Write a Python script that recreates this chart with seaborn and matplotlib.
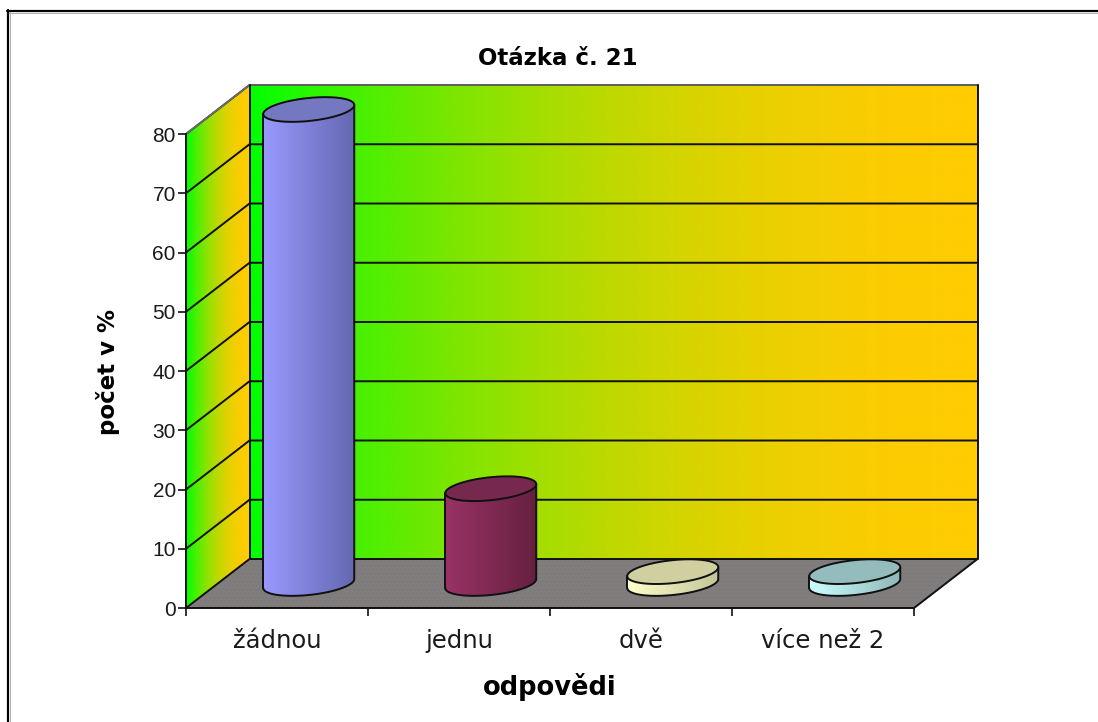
import numpy as np
import pandas as pd
import seaborn as sns
import matplotlib
matplotlib.use("Agg")
import matplotlib.pyplot as plt
from matplotlib.lines import Line2D
from matplotlib.patches import Polygon
from matplotlib.colors import to_rgb

categories = ["žádnou", "jednu", "dvě", "více než 2"]
values = [80, 16, 2, 2]
y_ticks = [0, 10, 20, 30, 40, 50, 60, 70, 80]
side_light = ["#9999ff", "#993366", "#ffffcc", "#ccffff"]
side_dark = ["#6468b0", "#66203f", "#c4c498", "#8fb8b8"]
top_colors = ["#7478c0", "#76284e", "#cfcfa0", "#94bcbc"]
title_text = "Otázka č. 21"
x_label = "odpovědi"
y_label = "počet v %"

W, H = 1098, 722
L, R, T, B = 186, 977.5, 85, 608
PX_X = 182.0        # pixels per category
PX_Y = 5.925        # pixels per percent
DX = 63.5 / PX_X    # depth of the 3D box in category units
DY = 49 / PX_Y      # depth of the 3D box in value units

sns.set_theme(style="white")
plt.rcParams["font.family"] = ["DejaVu Sans"]

fig = plt.figure(figsize=(W / 100, H / 100), dpi=100, facecolor="white")
ax = fig.add_axes([L / W, (H - B) / H, (R - L) / W, (B - T) / H])
ax.set_facecolor("none")

df = pd.DataFrame({"odpoved": categories, "pocet": values})
sns.barplot(data=df, x="odpoved", y="pocet", hue="odpoved", palette=side_light,
            width=0.5, saturation=1, legend=False, ax=ax)

x0, x1 = -0.5, len(categories) - 0.5
xlim = (x0, x1 + DX)
ylim = (0, max(y_ticks) + DY)
ext = [xlim[0], xlim[1], ylim[0], ylim[1]]
nw, nh = int(R - L), int(B - T)
yy, xx = np.mgrid[0:nh, 0:nw]
dots_wall = ((xx + 3 * (yy // 6 % 2)) % 6 == 0) & (yy % 6 == 0)
dots_floor = ((xx + 2 * (yy // 4 % 2)) % 4 == 0) & (yy % 4 == 0)
GREEN = np.array([0, 255, 0]) / 255
ORANGE = np.array([255, 204, 0]) / 255


def wall_image(xa, xb):
    t = np.clip((np.arange(nw) + L - xa) / (xb - xa), 0, 1)
    u = 1 - (1 - t) ** 2
    rgb = GREEN[None, :] * (1 - u[:, None]) + ORANGE[None, :] * u[:, None]
    img = np.repeat(rgb[None, :, :], nh, axis=0)
    tone = np.array([0.85, 0.72, 0.2])
    img[dots_wall] = img[dots_wall] * 0.8 + tone * 0.2
    return img


def clipped(img, pts, z):
    im = ax.imshow(img, extent=ext, aspect="auto", origin="upper", zorder=z,
                   interpolation="nearest")
    poly = Polygon(pts, closed=True, transform=ax.transData, fc="none", ec="none")
    ax.add_patch(poly)
    im.set_clip_path(poly)


top = max(y_ticks)
back_wall = [(x0 + DX, DY), (x1 + DX, DY), (x1 + DX, top + DY), (x0 + DX, top + DY)]
side_wall = [(x0, 0), (x0 + DX, DY), (x0 + DX, top + DY), (x0, top)]
floor = [(x0, 0), (x1, 0), (x1 + DX, DY), (x0 + DX, DY)]

clipped(wall_image(L + DX * PX_X, R), back_wall, 1)
clipped(wall_image(L, L + DX * PX_X), side_wall, 1)
floor_img = np.ones((nh, nw, 3)) * 126 / 255
floor_img[dots_floor] = np.array([150, 100, 100]) / 255
clipped(floor_img, floor, 1)

line_kw = dict(color="#101010", lw=1.4, zorder=2, solid_capstyle="round", clip_on=False)
for v in y_ticks[1:]:
    ax.plot([x0, x0 + DX, x1 + DX], [v, v + DY, v + DY], **line_kw)
ax.plot([x0, x0 + DX, x1 + DX, x1], [0, DY, DY, 0], **line_kw)
ax.plot([x0, x0 + DX, x1 + DX], [top, top + DY, top + DY],
        color="#707070", lw=1.2, zorder=2, clip_on=False)
ax.plot([x0 + DX, x0 + DX], [0 + DY, top + DY], **line_kw)
ax.plot([x1 + DX, x1 + DX], [DY, top + DY], **line_kw)

# cylinders: each seaborn bar gives the position, width and height
ang = np.linspace(0, 2 * np.pi, 181)
for i, bar in enumerate(list(ax.patches)[:len(categories)]):
    w = bar.get_width()
    cx = bar.get_x() + w / 2 + DX / 2
    base = DY / 2
    h = bar.get_height()
    bar.set_visible(False)
    a = w / 2
    shear = 4.5 / PX_Y              # the right end of the ellipse sits higher
    b = 11.5 / PX_Y
    ex = a * np.cos(ang)
    ey = shear * np.cos(ang) + b * np.sin(ang)
    lower = ang[(ang >= np.pi) & (ang <= 2 * np.pi)]
    lx = cx + a * np.cos(lower)
    ly = base + shear * np.cos(lower) + b * np.sin(lower)
    body = list(zip(lx, ly)) + [(cx + a, base + h + shear), (cx - a, base + h - shear)]
    c0, c1 = np.array(to_rgb(side_light[i])), np.array(to_rgb(side_dark[i]))
    t = np.linspace(0, 1, nw)
    u = np.clip((xlim[0] + t * (xlim[1] - xlim[0]) - (cx - a)) / (2 * a), 0, 1)
    grad = c0[None, :] * (1 - u[:, None]) + c1[None, :] * u[:, None]
    clipped(np.repeat(grad[None, :, :], 2, axis=0), body, 3 + i * 0.1)
    ax.plot(list(lx) + [cx + a], list(ly) + [base + h + shear], color="#101010",
            lw=1.4, zorder=3.05 + i * 0.1)
    ax.plot([lx[0], cx - a], [ly[0], base + h - shear], color="#101010", lw=1.4,
            zorder=3.05 + i * 0.1)
    ax.add_patch(Polygon(np.c_[cx + ex, base + h + ey], closed=True,
                         fc=top_colors[i], ec="#101010", lw=1.4,
                         zorder=3.07 + i * 0.1))

ax.set_xlim(*xlim)
ax.set_ylim(*ylim)
sns.despine(ax=ax, top=True, right=True)
for s in ("left", "bottom"):
    ax.spines[s].set_color("#101010")
    ax.spines[s].set_linewidth(1.4)
    ax.spines[s].set_zorder(6)
ax.spines["left"].set_bounds(0, top)
ax.spines["bottom"].set_bounds(x0, x1)

ax.set_yticks(y_ticks)
ax.set_xticks(range(len(categories)))
ax.set_xticklabels(categories)
ax.set_xticks(np.arange(x0, x1 + 0.5), minor=True)
TICK_COLOR = "#1a1a1a"
ax.tick_params(axis="y", direction="out", length=5.8, width=1.2, left=True,
               labelsize=15, pad=1.5, labelcolor=TICK_COLOR, color="#101010")
ax.tick_params(axis="x", which="major", length=0, labelsize=17.5, pad=15,
               labelcolor=TICK_COLOR)
ax.tick_params(axis="x", which="minor", direction="out", length=5.8, width=1.2,
               bottom=True, color="#101010")
for lab in ax.get_yticklabels():
    lab.set_family("Liberation Sans")

ax.set_title(title_text, fontsize=16.5, fontweight="bold", color="black",
             x=(558 - L) / (R - L), y=(B - 58) / (B - T), va="center", pad=0)
ax.set_xlabel(x_label, fontsize=18.5, fontweight="bold", color="black")
ax.xaxis.set_label_coords((550 - L) / (R - L), (B - 687) / (B - T))
ax.xaxis.label.set_va("center")
ax.set_ylabel(y_label, fontsize=16.5, fontweight="bold", color="black")
ax.yaxis.set_label_coords((108 - L) / (R - L), (B - 372) / (B - T))
ax.yaxis.label.set_va("center")

# frame of the picture: top and left only
for (xs, ys, col, lw) in [((7, W), (10.75, 10.75), "#000000", 2.2),
                          ((9, W), (12.5, 12.5), "#b0b0b0", 1.0),
                          ((7.75, 7.75), (10, H), "#000000", 2.2),
                          ((9.5, 9.5), (12, H), "#b0b0b0", 1.0)]:
    fig.add_artist(Line2D([x / W for x in xs], [1 - y / H for y in ys], color=col,
                          lw=lw * 0.72, transform=fig.transFigure))

fig.savefig("out.png", dpi=100)
